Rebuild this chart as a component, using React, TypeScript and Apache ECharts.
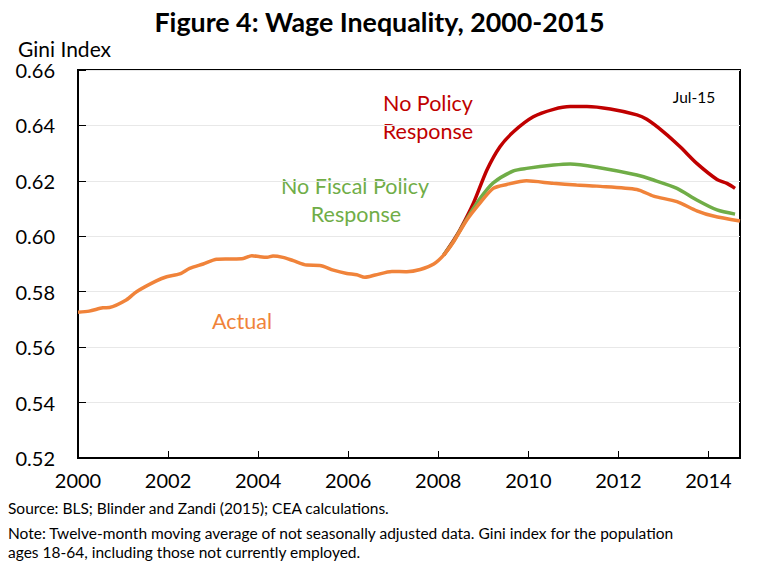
import React, { useEffect, useRef } from "react";
import * as echarts from "echarts";

const actualYears = [2000.0, 2000.25, 2000.55, 2000.7, 2001.07, 2001.3, 2001.74, 2001.97, 2002.26, 2002.48, 2002.78, 2003.08, 2003.37, 2003.67, 2003.86, 2004.04, 2004.2, 2004.33, 2004.55, 2004.78, 2005.08, 2005.37, 2005.67, 2005.97, 2006.19, 2006.37, 2006.6, 2006.97, 2007.3, 2007.6, 2007.9, 2008.12, 2008.34, 2008.63, 2008.92, 2009.22, 2009.52, 2009.96, 2010.55, 2011.07, 2011.52, 2012.41, 2012.78, 2013.3, 2013.74, 2014.11, 2014.7];
const actualValues = [0.5726, 0.573, 0.5742, 0.5743, 0.577, 0.58, 0.5839, 0.5854, 0.5864, 0.5884, 0.59, 0.5917, 0.5918, 0.592, 0.593, 0.5926, 0.5924, 0.5929, 0.5924, 0.5912, 0.5896, 0.5895, 0.5878, 0.5866, 0.5861, 0.5852, 0.586, 0.5873, 0.5872, 0.588, 0.59, 0.5932, 0.598, 0.6058, 0.6119, 0.6173, 0.6187, 0.62, 0.6191, 0.6185, 0.6181, 0.6169, 0.6145, 0.6125, 0.6092, 0.6073, 0.6055];

const fiscalYears = [2008.12, 2008.34, 2008.63, 2008.93, 2009.22, 2009.67, 2009.96, 2010.56, 2010.93, 2011.52, 2012.41, 2012.78, 2013.3, 2013.74, 2014.19, 2014.59];
const fiscalValues = [0.5932, 0.5982, 0.6062, 0.6137, 0.6193, 0.6236, 0.6245, 0.6257, 0.6261, 0.6249, 0.6221, 0.6203, 0.6173, 0.6131, 0.6095, 0.608];

const noPolicyYears = [2008.12, 2008.34, 2008.48, 2008.78, 2009.08, 2009.37, 2009.67, 2010.11, 2010.56, 2010.93, 2011.3, 2011.82, 2012.41, 2012.63, 2013.0, 2013.37, 2013.74, 2014.19, 2014.41, 2014.59];
const noPolicyValues = [0.5932, 0.5985, 0.6022, 0.6119, 0.6239, 0.6323, 0.6377, 0.6431, 0.6458, 0.6468, 0.6468, 0.6459, 0.6438, 0.6422, 0.6377, 0.6323, 0.6263, 0.6205, 0.6191, 0.6173];

const yearTicks = [2000, 2002, 2004, 2006, 2008, 2010, 2012, 2014];

const FONT = "Lato, 'Open Sans', sans-serif";

function pairs(xs: number[], ys: number[]) {
  return xs.map((x, i) => [x, ys[i]]);
}

export default function App() {
  const ref = useRef<HTMLDivElement>(null);
  useEffect(() => {
    document.body.style.margin = "0";
    const chart = echarts.init(ref.current!, null, { renderer: "svg" });
    const line = (name: string, data: number[][], color: string, z: number) => ({
      name,
      type: "line",
      data,
      showSymbol: false,
      smooth: 0.25,
      z,
      lineStyle: { color, width: 3.5 },
      itemStyle: { color },
    });
    const label = (text: string, x: number, y: number, color: string, size: number) => ({
      type: "text",
      x,
      y,
      style: { text, fill: color, font: `${size}px ${FONT}`, align: "center", verticalAlign: "middle" },
    });
    const note = (text: string, y: number) => ({
      type: "text",
      x: 8,
      y,
      style: { text, fill: "#000", font: `15.5px ${FONT}`, align: "left", verticalAlign: "middle" },
    });
    chart.setOption({
      animation: false,
      backgroundColor: "#fff",
      textStyle: { fontFamily: FONT },
      title: {
        text: "Figure 4: Wage Inequality, 2000-2015",
        left: "center",
        top: 3,
        textStyle: { fontFamily: FONT, fontWeight: "bold", fontSize: 26.8, color: "#000" },
      },
      grid: {
        left: 78,
        right: 19,
        top: 70,
        bottom: 106,
        show: true,
        borderColor: "#000",
        borderWidth: 2,
        containLabel: false,
      },
      xAxis: {
        type: "value",
        min: 2000,
        max: 2014.7,
        interval: 2,
        splitLine: { show: false },
        axisLine: { show: true, lineStyle: { color: "#000", width: 2 } },
        axisTick: { show: true, inside: true, length: 7, lineStyle: { color: "#000", width: 1 } },
        axisLabel: {
          showMaxLabel: false,
          color: "#000",
          fontSize: 20,
          margin: 12,
          fontFamily: FONT,
          formatter: (v: number) => (yearTicks.includes(Math.round(v * 100) / 100) ? String(v) : ""),
        },
      },
      yAxis: {
        type: "value",
        min: 0.52,
        max: 0.66,
        interval: 0.02,
        splitLine: { show: true, lineStyle: { color: "#e8e8e8", width: 1 } },
        axisLine: { show: true, lineStyle: { color: "#000", width: 2 } },
        axisTick: { show: true, inside: true, length: 8, lineStyle: { color: "#000", width: 1 } },
        axisLabel: {
          color: "#000",
          fontSize: 20,
          margin: 23,
          fontFamily: FONT,
          formatter: (v: number) => v.toFixed(2),
        },
      },
      series: [
        line("No Policy Response", pairs(noPolicyYears, noPolicyValues), "#C00000", 2),
        line("No Fiscal Policy Response", pairs(fiscalYears, fiscalValues), "#70AD47", 3),
        line("Actual", pairs(actualYears, actualValues), "#F0833A", 4),
      ],
      graphic: [
        { type: "text", x: 18, y: 48, style: { text: "Gini Index", fill: "#000", font: `21px ${FONT}`, align: "left", verticalAlign: "middle" } },
        label("No Policy", 428, 103, "#C00000", 21.5),
        label("Response", 428, 131, "#C00000", 21.5),
        label("No Fiscal Policy", 355, 186, "#70AD47", 21.5),
        label("Response", 356, 214, "#70AD47", 21.5),
        label("Actual", 242, 321, "#F0833A", 21.5),
        label("Jul-15", 694, 97, "#000", 15.5),
        note("Source: BLS; Blinder and Zandi (2015); CEA calculations.", 508),
        note("Note: Twelve-month moving average of not seasonally adjusted data. Gini index for the population", 533),
        note("ages 18-64, including those not currently employed.", 552),
      ],
    });
    return () => chart.dispose();
  }, []);
  return <div ref={ref} style={{ width: 759, height: 564 }} />;
}
